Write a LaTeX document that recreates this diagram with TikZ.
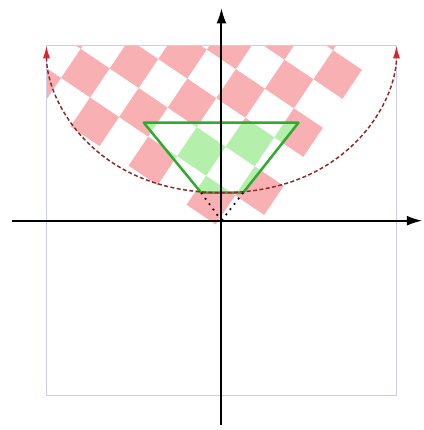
\documentclass[tikz,border=0pt]{standalone}
\definecolor{frameLavender}{HTML}{CDCDEE}
\definecolor{checkRed}{HTML}{F8B0B2}
\definecolor{checkGreen}{HTML}{B4F0AC}
\definecolor{edgeGreen}{HTML}{2EAA2E}
\definecolor{arcRed}{HTML}{8B2A2A}
\definecolor{tipRed}{HTML}{E0202A}
\usepackage{tikz}
\usetikzlibrary{calc, arrows.meta}

\newcommand{\checkerBoard}[1]{%
  \foreach \col in {-9,...,0}{%
    \foreach \row in {0,...,8}{%
      \ifodd\numexpr\col+\row\relax
        \fill[#1] (\col,\row) rectangle ++(1,1);
      \fi
    }%
  }%
}

\begin{document}
\begin{tikzpicture}[x=1cm, y=1cm,
    boardFrame/.style={shift={(-0.084,-0.052)}, rotate=-34, scale=0.5},
    axisLine/.style={draw=black, line width=0.8pt, -{Latex[length=2.2mm, width=1.4mm]}},
    wedgeEdge/.style={draw=edgeGreen, line width=1pt, line join=round},
    rayDots/.style={draw=black, dotted, line width=0.7pt},
    levelArc/.style={draw=arcRed, line width=0.6pt, dash pattern=on 1.6pt off 1pt,
                     {Latex[length=1.8mm, width=1mm, color=tipRed]}-{Latex[length=1.8mm, width=1mm, color=tipRed]}}]
  \useasboundingbox (-3.164,-2.99) rectangle (2.879,3.153);

  \coordinate (O) at (0,0);
  \coordinate (trapTL) at (-1.11,1.4);
  \coordinate (trapTR) at (1.1,1.4);
  \coordinate (trapBR) at (0.31,0.4);
  \coordinate (trapBL) at (-0.29,0.4);
  \coordinate (arcL) at (-2.5,2.5);
  \coordinate (arcB) at (0,0.4);
  \coordinate (arcR) at (2.5,2.5);
  \coordinate (xStart) at (-2.99,0);
  \coordinate (xEnd) at (2.87,0);
  \coordinate (yStart) at (0,-2.92);
  \coordinate (yEnd) at (0,3.04);

  \begin{scope}
    \clip (-2.5,-2.5) rectangle (2.5,2.5);
    \begin{scope}[boardFrame]
      \checkerBoard{checkRed}
    \end{scope}
  \end{scope}

  \fill[white] (trapTL) -- (trapTR) -- (trapBR) -- (trapBL) -- cycle;
  \begin{scope}
    \clip (trapTL) -- (trapTR) -- (trapBR) -- (trapBL) -- cycle;
    \begin{scope}[boardFrame]
      \checkerBoard{checkGreen}
    \end{scope}
  \end{scope}

  \draw[frameLavender, line width=0.6pt] (-2.5,-2.5) rectangle (2.5,2.5);
  \draw[wedgeEdge] (trapTL) -- (trapTR) -- (trapBR) -- (trapBL) -- cycle;
  \draw[rayDots] (trapBL) -- (O);
  \draw[rayDots] (trapBR) -- (O);

  \draw[levelArc] (arcL) .. controls +(0,-0.8) and (-1.8,0.4) .. (arcB)
                         .. controls (1.8,0.4) and +(0,-0.8) .. (arcR);

  \draw[axisLine] (xStart) -- (xEnd);
  \draw[axisLine] (yStart) -- (yEnd);
\end{tikzpicture}
\end{document}
